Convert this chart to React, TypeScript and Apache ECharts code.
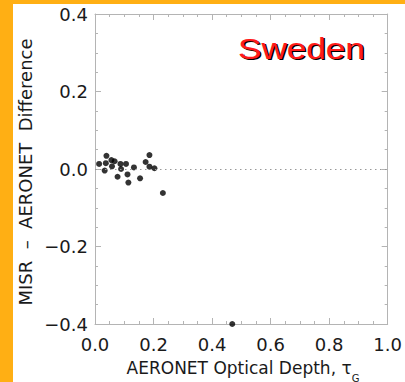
import React, { useEffect, useRef } from "react";
import * as echarts from "echarts";

const aeronetTau = [0.014, 0.033, 0.037, 0.039, 0.056, 0.058, 0.067, 0.077, 0.087, 0.089, 0.106, 0.111, 0.114, 0.133, 0.154, 0.173, 0.186, 0.186, 0.203, 0.232, 0.469];
const misrDiff = [0.013, -0.004, 0.015, 0.034, 0.023, 0.007, 0.02, -0.02, 0.013, 0.0, 0.013, -0.014, -0.035, 0.004, -0.024, 0.018, 0.036, 0.006, 0.002, -0.062, -0.4];

const xTickLabels = ["0.0", "0.2", "0.4", "0.6", "0.8", "1.0"];
const yTickLabels = ["\u22120.4", "\u22120.2", "0.0", "0.2", "0.4"];

const titleText = "Sweden";
const xName = "AERONET Optical Depth, \u03c4";
const xNameSub = "G";
const yName = "MISR  \u2013  AERONET  Difference";

const ORANGE = "#FFAF14";
const FRAME = "#b4b4b4";
const TEXT = "#1a1a1a";

export default function App() {
  const ref = useRef<HTMLDivElement>(null);
  useEffect(() => {
    if (!ref.current) return;
    const chart = echarts.init(ref.current, undefined, { renderer: "svg" });
    const data = aeronetTau.map((x, i) => [x, misrDiff[i]]);
    const xLab = (v: number) => xTickLabels[Math.round(v / 0.2)] ?? "";
    const yLab = (v: number) => yTickLabels[Math.round((v + 0.4) / 0.2)] ?? "";
    const axisCommon = {
      axisLine: { show: true, onZero: false, lineStyle: { color: FRAME, width: 1 } },
      axisTick: { show: true, inside: true, length: 6, lineStyle: { color: FRAME } },
      minorTick: { show: true, splitNumber: 4, length: 3, lineStyle: { color: FRAME } },
      splitLine: { show: false },
    };
    chart.setOption({
      animation: false,
      backgroundColor: "#fff",
      grid: { left: 95, right: 11, top: 14, bottom: 58 },
      xAxis: [
        {
          type: "value", min: 0, max: 1, interval: 0.2, position: "bottom",
          ...axisCommon,
          axisLabel: { margin: 11, fontSize: 18, fontFamily: "DejaVu Sans", color: TEXT, formatter: xLab },
        },
        {
          type: "value", min: 0, max: 1, interval: 0.2, position: "top",
          ...axisCommon,
          axisLabel: { show: false },
        },
      ],
      yAxis: [
        {
          type: "value", min: -0.4, max: 0.4, interval: 0.2, position: "left",
          ...axisCommon,
          axisLabel: { margin: 7, fontSize: 18, fontFamily: "DejaVu Sans", color: TEXT, formatter: yLab },
        },
        {
          type: "value", min: -0.4, max: 0.4, interval: 0.2, position: "right",
          ...axisCommon,
          axisLabel: { show: false },
        },
      ],
      series: [
        {
          type: "scatter",
          data,
          symbolSize: 6,
          clip: false,
          itemStyle: { color: "#000" },
          markLine: {
            silent: true,
            symbol: "none",
            label: { show: false },
            lineStyle: { color: "#999", type: [1.5, 3.5], width: 1 },
            data: [{ yAxis: 0 }],
          },
        },
      ],
      graphic: [
        { type: "rect", shape: { x: 0, y: 0, width: 13, height: 382 }, style: { fill: ORANGE }, z: 10 },
        { type: "rect", shape: { x: 0, y: 0, width: 405, height: 4 }, style: { fill: ORANGE }, z: 10 },
        {
          type: "text", x: 239.5, y: 49.5, scaleX: 1.17, z: 10,
          style: { text: titleText, fontSize: 30, fontFamily: "Liberation Sans", fill: "#000", align: "left", verticalAlign: "middle", textAlign: "left", textVerticalAlign: "middle" },
        },
        {
          type: "text", x: 238, y: 48, scaleX: 1.17, z: 11,
          style: { text: titleText, fontSize: 30, fontFamily: "Liberation Sans", fill: "#ff1a1a", align: "left", verticalAlign: "middle", textAlign: "left", textVerticalAlign: "middle" },
        },
        {
          type: "text", x: 25, y: 172, rotation: Math.PI / 2, z: 10,
          style: { text: yName, fontSize: 18, fontFamily: "DejaVu Sans", fill: TEXT, align: "center", verticalAlign: "middle", textAlign: "center", textVerticalAlign: "middle" },
        },
        {
          type: "text", x: 243, y: 368, z: 10,
          style: {
            text: "{a|" + xName + "}{g|" + xNameSub + "}",
            align: "center", verticalAlign: "middle", textAlign: "center", textVerticalAlign: "middle",
            rich: {
              a: { fontSize: 17, fontFamily: "DejaVu Sans", fill: TEXT, lineHeight: 30, verticalAlign: "middle" },
              g: { fontSize: 10, fontFamily: "DejaVu Sans", fill: TEXT, lineHeight: 10, verticalAlign: "bottom" },
            },
          },
        },
      ],
    });
    return () => chart.dispose();
  }, []);
  return (
    <div style={{ position: "fixed", left: 0, top: 0, width: 405, height: 382 }}>
      <div ref={ref} style={{ width: 405, height: 382 }} />
    </div>
  );
}
